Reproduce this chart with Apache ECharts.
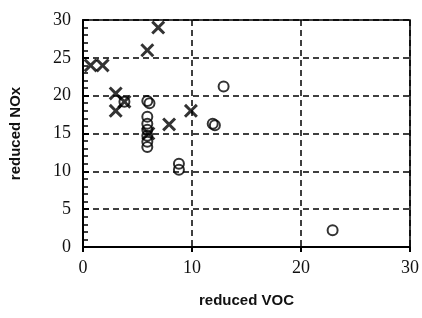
<!DOCTYPE html>
<html>
<head>
<meta charset="utf-8">
<script src="https://cdn.jsdelivr.net/npm/echarts@6/dist/echarts.min.js"></script>
<style>
  html, body { margin: 0; padding: 0; background: #fff; }
  #chart { width: 422px; height: 318px; }
</style>
</head>
<body>
<div id="chart"></div>
<script>
// cross markers (reduced VOC, reduced NOx)
var crossPoints = [
  [0.7, 24], [1.8, 24], [3.0, 20.3], [3.0, 18], [3.8, 19.2],
  [5.9, 26], [6.9, 29], [6.0, 15], [7.9, 16.2], [9.9, 18]
];
// circle markers
var circlePoints = [
  [3.8, 19.2], [5.9, 19.3], [6.1, 19.0], [5.9, 17.2], [5.9, 16.3],
  [5.9, 15.5], [5.9, 14.7], [5.9, 13.9], [5.9, 13.2],
  [8.8, 11], [8.8, 10.2], [11.9, 16.3], [12.1, 16.1],
  [12.9, 21.2], [22.9, 2.2]
];
var xTicks = [0, 10, 20, 30];
var yTicks = [0, 5, 10, 15, 20, 25, 30];

var crossPath = 'path://M0,1.5L1.5,0L5,3.5L8.5,0L10,1.5L6.5,5L10,8.5L8.5,10L5,6.5L1.5,10L0,8.5L3.5,5Z';
var serif = '"Liberation Serif", "DejaVu Serif", serif';
var sans = '"Liberation Sans", Arial, sans-serif';

var myChart = echarts.init(document.getElementById('chart'));
myChart.setOption({
  animation: false,
  grid: {
    left: 82, right: 12, top: 20, bottom: 71,
    show: true, borderColor: '#000', borderWidth: 1.5
  },
  xAxis: {
    type: 'value',
    min: xTicks[0], max: xTicks[xTicks.length - 1], interval: 10,
    name: 'reduced VOC', nameLocation: 'middle', nameGap: 46,
    nameTextStyle: { fontFamily: sans, fontWeight: 'bold', fontSize: 15, color: '#111' },
    axisLine: { lineStyle: { color: '#000', width: 2 } },
    axisTick: { show: true, length: 5, lineStyle: { color: '#000', width: 2 } },
    axisLabel: { fontFamily: serif, fontSize: 18, color: '#111', margin: 12 },
    splitLine: { show: true, lineStyle: { color: '#000', type: [6, 4], width: 1.5 } }
  },
  yAxis: {
    type: 'value',
    min: yTicks[0], max: yTicks[yTicks.length - 1], interval: 5,
    name: 'reduced NOx', nameLocation: 'middle', nameGap: 60,
    nameTextStyle: { fontFamily: sans, fontWeight: 'bold', fontSize: 15, color: '#111' },
    axisLine: { lineStyle: { color: '#000', width: 2 } },
    axisTick: { show: true, inside: true, length: 6, lineStyle: { color: '#000', width: 2 } },
    minorTick: { show: true, splitNumber: 5, length: 5, lineStyle: { color: '#000', width: 1.5 } },
    axisLabel: { fontFamily: serif, fontSize: 18, color: '#111', margin: 12 },
    splitLine: { show: true, lineStyle: { color: '#000', type: [6, 4], width: 1.5 } }
  },
  series: [
    {
      type: 'scatter',
      data: circlePoints,
      symbol: 'circle',
      symbolSize: 10,
      itemStyle: { color: 'rgba(0,0,0,0)', borderColor: '#000', borderWidth: 2 }
    },
    {
      type: 'scatter',
      data: crossPoints,
      symbol: crossPath,
      symbolSize: 14,
      itemStyle: { color: '#000' }
    }
  ]
});
</script>
</body>
</html>
